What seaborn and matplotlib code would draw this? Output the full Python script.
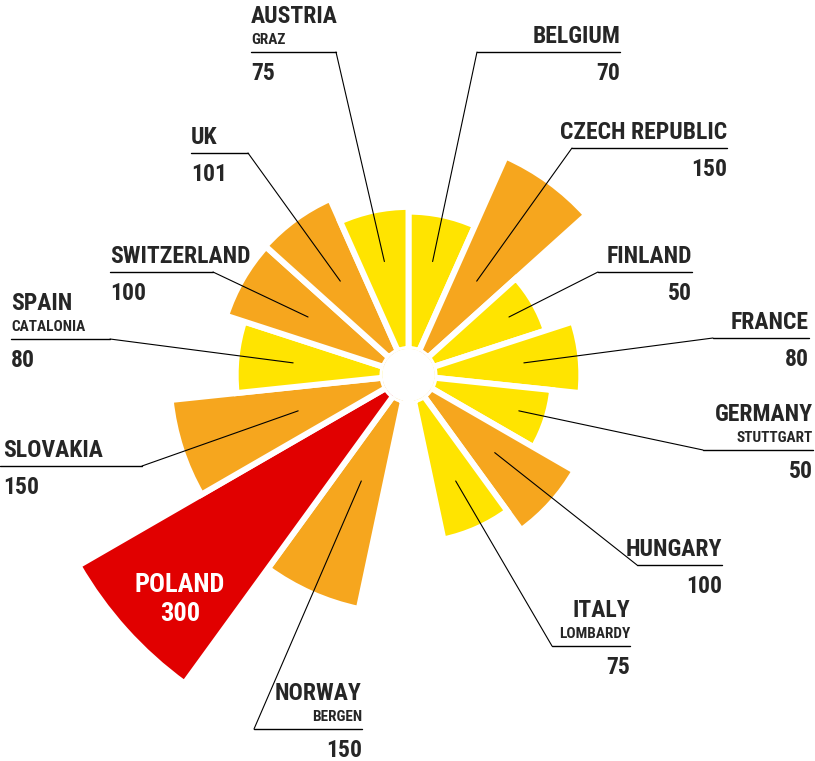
import numpy as np
import matplotlib
matplotlib.use("Agg")
import matplotlib.pyplot as plt
from matplotlib import font_manager
from matplotlib.lines import Line2D
import seaborn as sns

countries = ["BELGIUM", "CZECH REPUBLIC", "FINLAND", "FRANCE", "GERMANY", "HUNGARY", "ITALY",
             "NORWAY", "POLAND", "SLOVAKIA", "SPAIN", "SWITZERLAND", "UK", "AUSTRIA"]
regions = ["", "", "", "", "STUTTGART", "", "LOMBARDY",
           "BERGEN", "", "", "CATALONIA", "", "", "GRAZ"]
values = [70, 150, 50, 80, 50, 100, 75, 150, 300, 150, 80, 100, 101, 75]

# label layout in image pixels: underline y, underline x start, x end, text side
layout = [
    (52, 477, 620, "r"),
    (148, 572, 727, "r"),
    (272, 598, 692, "r"),
    (338, 713, 809, "r"),
    (450, 703, 813, "r"),
    (565, 637, 722, "r"),
    (646, 552, 630, "r"),
    (729, 254, 362, "r"),
    None,
    (466, 0, 142, "l"),
    (339, 11, 110, "l"),
    (272, 110, 213, "l"),
    (153, 191, 248, "l"),
    (52, 251, 336, "l"),
]

YELLOW = "#FFE400"
ORANGE = "#F6A61E"
RED = "#E10000"

def bar_color(v):
    if v >= 300:
        return RED
    if v >= 100:
        return ORANGE
    return YELLOW

sns.set_style("white")
names = {f.name for f in font_manager.fontManager.ttflist}
FONT = "DejaVu Sans"
for fam in ["Roboto Condensed", "Open Sans Condensed", "Liberation Sans Narrow", "DejaVu Sans"]:
    if fam in names:
        FONT = fam
        break
plt.rcParams["font.family"] = [FONT, "DejaVu Sans"]

W, H = 815, 761
fig = plt.figure(figsize=(W / 100, H / 100), dpi=100)

# polar axes geometry (pixels)
cx, cy = 408.5, 375
scale = 0.947          # px per value unit
rorigin = -27.5
rmax = 400
OFFSET = 75
R = scale * (rmax - rorigin)
ax = fig.add_axes([(cx - R) / W, (H - cy - R) / H, 2 * R / W, 2 * R / H], projection="polar")
ax.set_theta_zero_location("N")
ax.set_theta_direction(-1)

# 15 equal slots, the one pointing straight down is left empty
n = len(values)
width = 2 * np.pi / (n + 1)
slot = np.arange(n)
slot[slot >= 7] += 1
theta = slot * width
heights = np.array(values) + OFFSET
ax.bar(theta, heights, width=width, bottom=0, align="edge",
       color=[bar_color(v) for v in values], edgecolor="white", linewidth=4.3)
ax.set_ylim(0, rmax)
ax.set_rorigin(rorigin)
ax.axis("off")

def fx(x):
    return x / W

def fy(y):
    return 1 - y / H

r_leader = 95
for i, lay in enumerate(layout):
    if lay is None:
        continue
    uy, x0, x1, side = lay
    fig.add_artist(Line2D([fx(x0), fx(x1)], [fy(uy), fy(uy)], color="black", lw=1.0,
                          transform=fig.transFigure))
    anchor = x1 if side == "l" else x0
    ax.annotate("", xy=(theta[i] + width / 2, r_leader), xycoords="data",
                xytext=(fx(anchor), fy(uy)), textcoords="figure fraction",
                arrowprops=dict(arrowstyle="-", color="black", lw=0.8, shrinkA=0, shrinkB=0))
    tx = x0 + (3 if x0 == 0 else 0) if side == "l" else x1
    ha = "left" if side == "l" else "right"
    if regions[i]:
        fig.text(fx(tx), fy(uy - 29), countries[i], ha=ha, va="baseline",
                 fontsize=17, fontweight="bold")
        fig.text(fx(tx), fy(uy - 8), regions[i], ha=ha, va="baseline",
                 fontsize=11, fontweight="bold")
    else:
        fig.text(fx(tx), fy(uy - 9), countries[i], ha=ha, va="baseline",
                 fontsize=17, fontweight="bold")
    fig.text(fx(tx), fy(uy + 28), str(values[i]), ha=ha, va="baseline",
             fontsize=17, fontweight="bold")

# Poland label inside its bar
ip = countries.index("POLAND")
fig.text(fx(180), fy(592), countries[ip], ha="center", va="baseline",
         fontsize=19, fontweight="bold", color="white")
fig.text(fx(180), fy(621), str(values[ip]), ha="center", va="baseline",
         fontsize=19, fontweight="bold", color="white")

fig.savefig("out.png", dpi=100)
